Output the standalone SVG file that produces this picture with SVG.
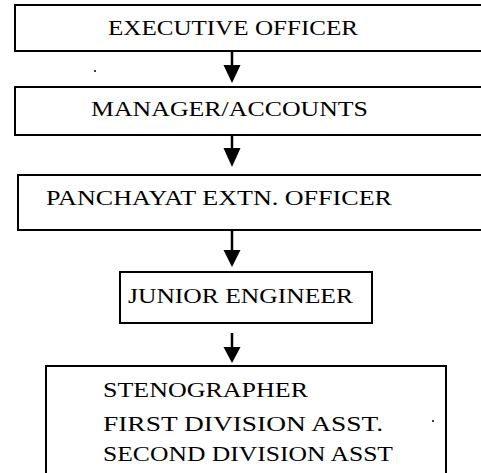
<svg xmlns="http://www.w3.org/2000/svg" width="481" height="473" viewBox="0 0 481 473">
<defs>
<style>
.box{fill:#fff;stroke:#000;stroke-width:2}
.t{font-family:"Liberation Serif","Times New Roman","DejaVu Serif",serif;font-size:22px;fill:#000}
.c{stroke:#000;stroke-width:2.5;fill:none}
.h{fill:#000;stroke:none}
</style>
</defs>
<rect width="481" height="473" fill="#fff"/>
<g id="n1">
<rect class="box" x="15" y="5" width="470" height="46"/>
<text class="t" x="108" y="35" textLength="250" lengthAdjust="spacingAndGlyphs">EXECUTIVE OFFICER</text>
</g>
<g id="n2">
<rect class="box" x="15" y="87" width="470" height="48"/>
<text class="t" x="91" y="116" textLength="277" lengthAdjust="spacingAndGlyphs">MANAGER/ACCOUNTS</text>
</g>
<g id="n3">
<rect class="box" x="18" y="175" width="467" height="55"/>
<text class="t" x="46" y="205" textLength="346" lengthAdjust="spacingAndGlyphs">PANCHAYAT EXTN. OFFICER</text>
</g>
<g id="n4">
<rect class="box" x="120" y="272" width="252" height="51"/>
<text class="t" x="128" y="303" textLength="225" lengthAdjust="spacingAndGlyphs">JUNIOR ENGINEER</text>
</g>
<g id="n5">
<rect class="box" x="46" y="366" width="400" height="120"/>
<text class="t" x="103" y="397" textLength="205" lengthAdjust="spacingAndGlyphs">STENOGRAPHER</text>
<text class="t" x="103" y="431" textLength="280" lengthAdjust="spacingAndGlyphs">FIRST DIVISION ASST.</text>
<text class="t" x="103" y="461" textLength="290" lengthAdjust="spacingAndGlyphs">SECOND DIVISION ASST</text>
<circle cx="433" cy="421" r="1" fill="#000"/>
</g>
<g id="connectors">
<line class="c" x1="232" y1="51" x2="232" y2="67"/>
<polygon class="h" points="223.5,65 240.5,65 232,83"/>
<line class="c" x1="232" y1="135" x2="232" y2="150"/>
<polygon class="h" points="223.5,148 240.5,148 232,167"/>
<line class="c" x1="232" y1="230" x2="232" y2="252"/>
<polygon class="h" points="223.5,250 240.5,250 232,267"/>
<line class="c" x1="232" y1="333" x2="232" y2="349"/>
<polygon class="h" points="223.5,347 240.5,347 232,363"/>
</g>
<circle cx="95" cy="71" r="1" fill="#000"/>
</svg>
